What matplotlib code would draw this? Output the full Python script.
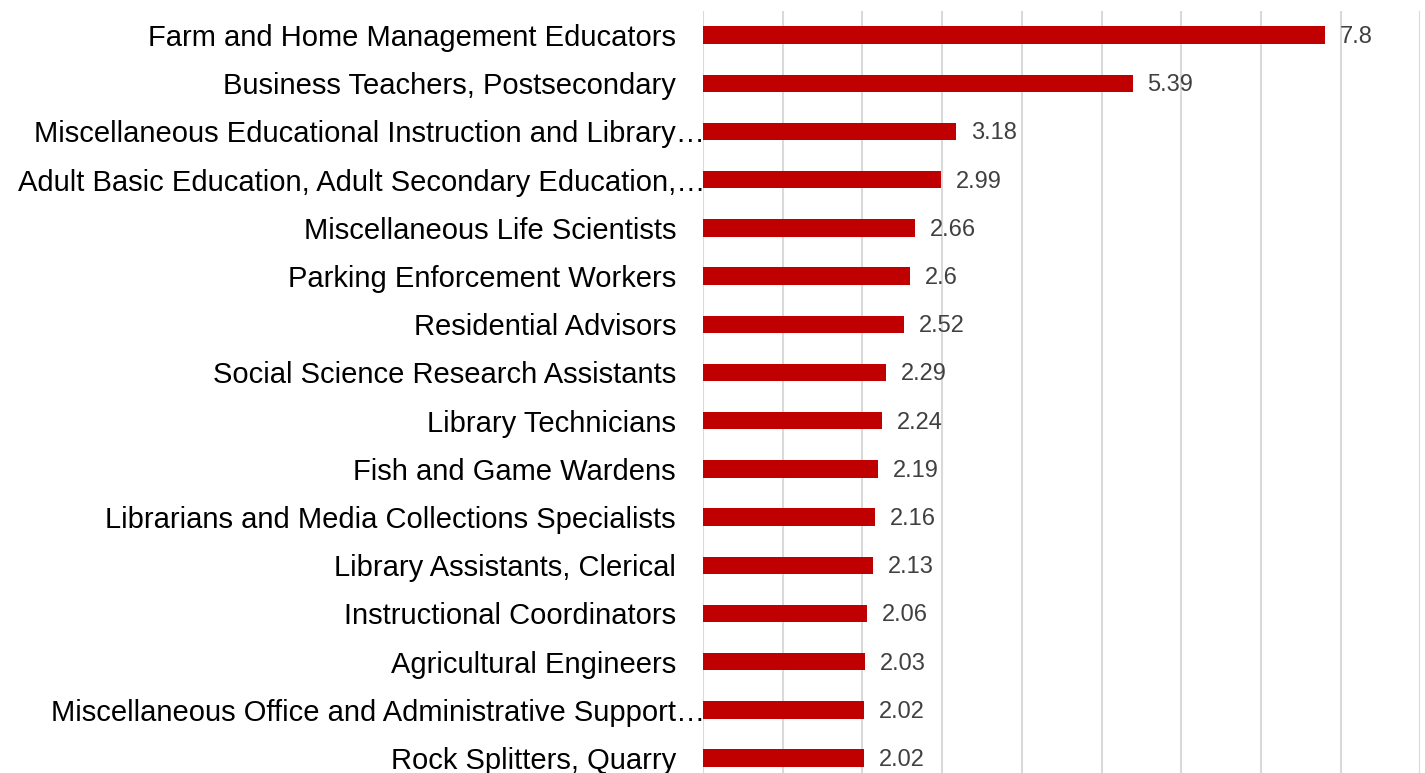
import matplotlib.pyplot as plt
import matplotlib.transforms as mtransforms
import numpy as np

plt.rcParams['font.family'] = ['Liberation Sans', 'DejaVu Sans']

# Occupations, top to bottom
occupations = [
    "Farm and Home Management Educators",
    "Business Teachers, Postsecondary",
    "Miscellaneous Educational Instruction and Library\u2026",
    "Adult Basic Education, Adult Secondary Education,\u2026",
    "Miscellaneous Life Scientists",
    "Parking Enforcement Workers",
    "Residential Advisors",
    "Social Science Research Assistants",
    "Library Technicians",
    "Fish and Game Wardens",
    "Librarians and Media Collections Specialists",
    "Library Assistants, Clerical",
    "Instructional Coordinators",
    "Agricultural Engineers",
    "Miscellaneous Office and Administrative Support\u2026",
    "Rock Splitters, Quarry",
]
values = [7.8, 5.39, 3.18, 2.99, 2.66, 2.6, 2.52, 2.29, 2.24, 2.19,
          2.16, 2.13, 2.06, 2.03, 2.02, 2.02]
value_labels = ["7.8", "5.39", "3.18", "2.99", "2.66", "2.6", "2.52", "2.29",
                "2.24", "2.19", "2.16", "2.13", "2.06", "2.03", "2.02", "2.02"]

fig = plt.figure(figsize=(14.25, 7.73), dpi=100)
ax = fig.add_axes([703 / 1425, 0.0, 717.3 / 1425, 1 - 11 / 773])

y = np.arange(len(occupations))
ax.barh(y, values, height=0.36, color='#C00000', zorder=3)

ax.set_xlim(0, 9)
ax.set_ylim(15.31, -0.5)
ax.set_xticks(range(0, 10))
ax.set_xticklabels([])
ax.set_yticks([])
ax.tick_params(length=0)
ax.grid(axis='x', color='#D9D9D9', linewidth=1.5, zorder=0)
for s in ax.spines.values():
    s.set_visible(False)

# category labels, drawn as text so truncated ones can run up to the axis
base = ax.get_yaxis_transform()
for i, name in enumerate(occupations):
    dx = 2 if name.endswith('\u2026') else -27
    tr = base + mtransforms.ScaledTranslation(dx / 100, -3 / 100, fig.dpi_scale_trans)
    ax.text(0, i, name, transform=tr, ha='right', va='center',
            fontsize=21, color='black', clip_on=False)

# value labels
for i, (v, lab) in enumerate(zip(values, value_labels)):
    tr = ax.transData + mtransforms.ScaledTranslation(15 / 100, -2 / 100, fig.dpi_scale_trans)
    ax.text(v, i, lab, transform=tr, ha='left', va='center',
            fontsize=17, color='#404040')

fig.savefig('out.png', dpi=100)
